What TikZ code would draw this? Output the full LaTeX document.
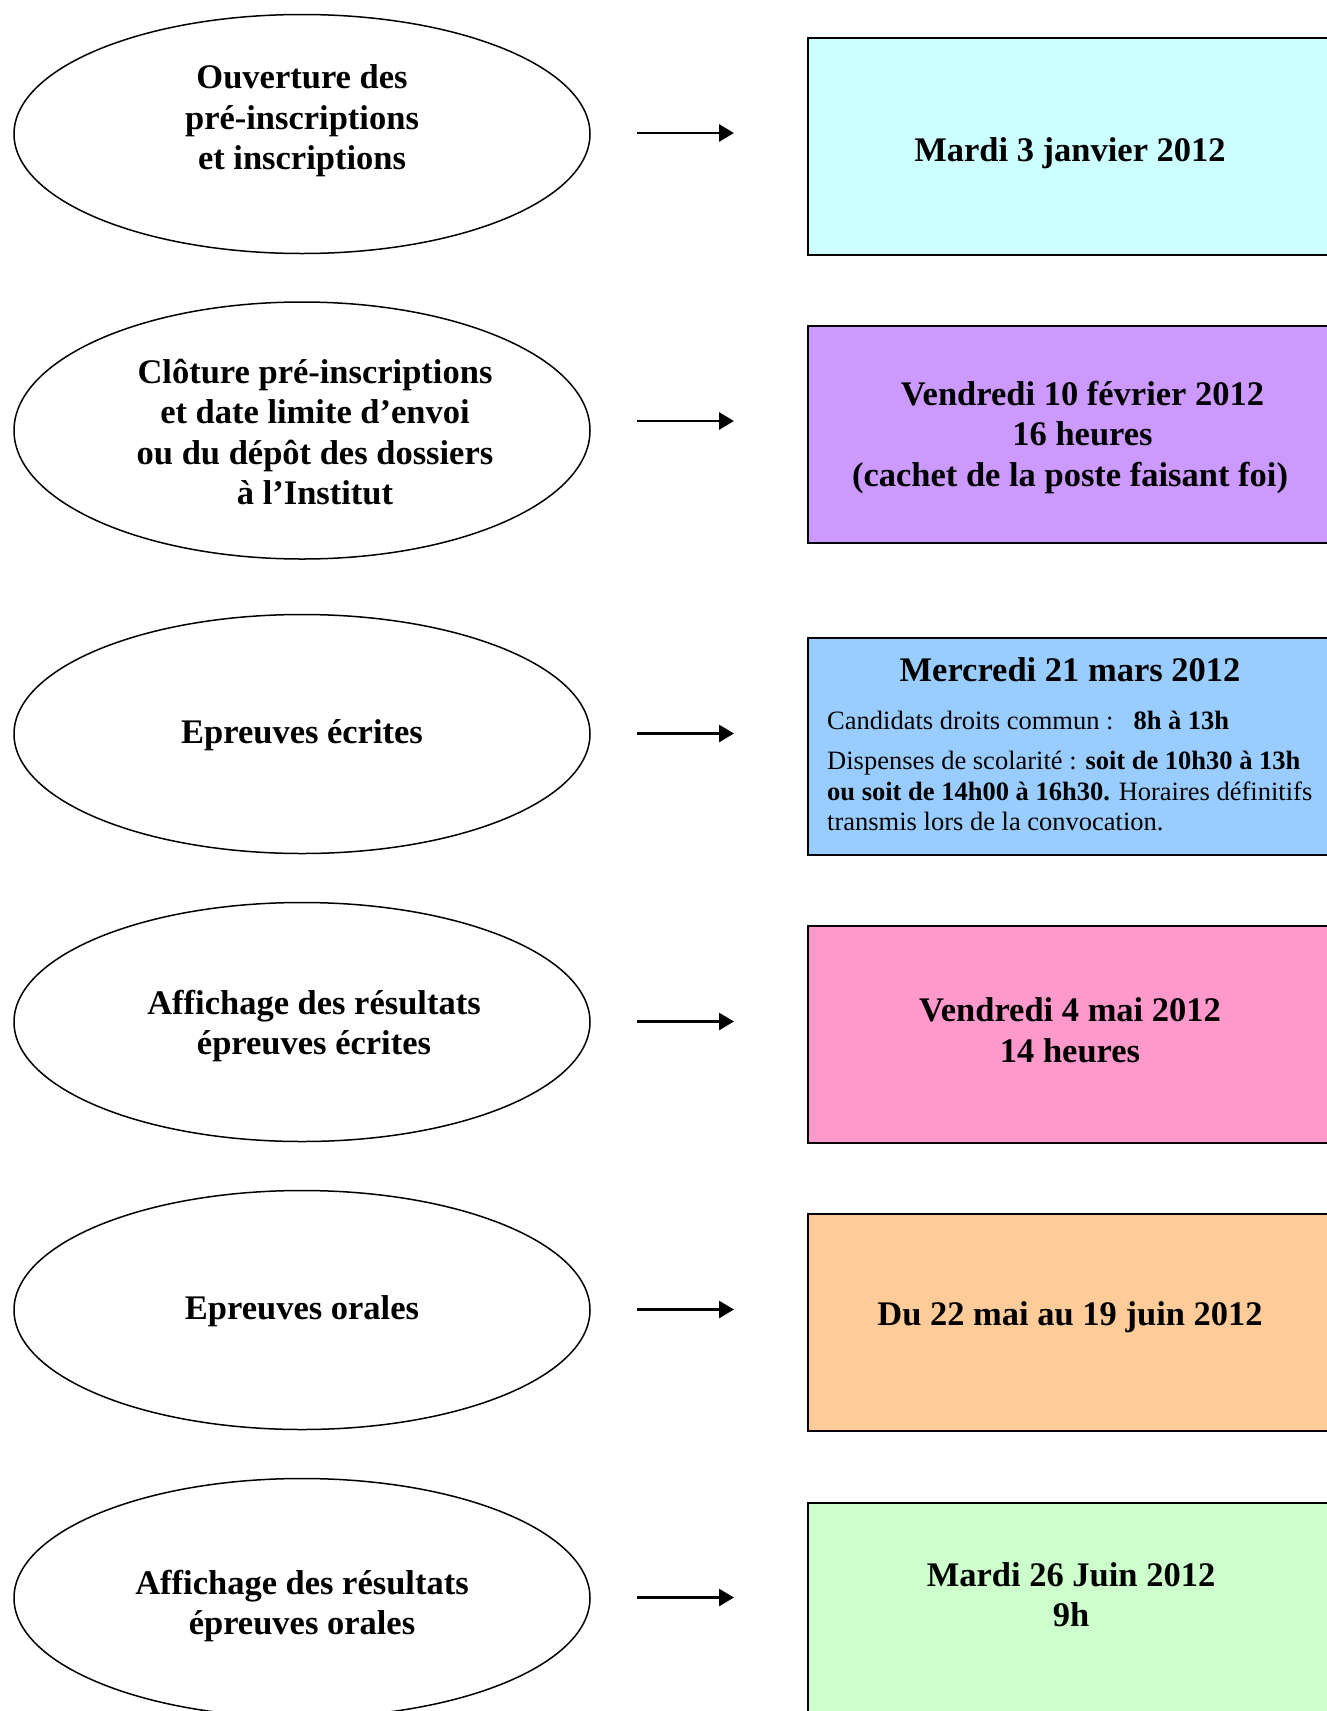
\documentclass[tikz,border=0pt]{standalone}
\usepackage{fontspec}
\setmainfont{Liberation Serif}
\usepackage{xcolor}
\usepackage{tikz}
\usetikzlibrary{shapes.geometric,arrows.meta,positioning}

\definecolor{cyanpale}{HTML}{CCFFFF}
\definecolor{lavande}{HTML}{CC99FF}
\definecolor{bleuciel}{HTML}{99CCFF}
\definecolor{rose}{HTML}{FF99CC}
\definecolor{abricot}{HTML}{FFCC99}
\definecolor{vertpale}{HTML}{CCFFCC}

\tikzset{
    etape/.style={draw, ellipse, line width=1.5pt, minimum width=576pt, minimum height=239pt, inner sep=0pt},
    cadre/.style={draw, line width=2pt, minimum width=528pt, minimum height=217pt, anchor=north west, inner sep=0pt},
    fleche/.style={line width=2.8pt, -{Triangle[length=15pt,width=17pt]}},
    gras/.style={font=\bfseries\fontsize{34.5}{40.5}\selectfont, align=center, inner sep=0pt},
    petit/.style={font=\fontsize{26.5}{30.5}\selectfont, align=left, inner sep=0pt, anchor=west}
}

\begin{document}
\begin{tikzpicture}[x=1pt,y=-1pt]
    \useasboundingbox (0,0) rectangle (1327,1711);

    \node[etape] (e1) at (302,134) {};
    \node[etape, minimum height=257pt] (e2) at (302,430.5) {};
    \node[etape] (e3) at (302,734) {};
    \node[etape] (e4) at (302,1022) {};
    \node[etape] (e5) at (302,1310) {};
    \node[etape] (e6) at (302,1598) {};

    \node[gras] (t1) at (302,121) {Ouverture des\\pré-inscriptions\\et inscriptions};
    \node[gras] (t2) at (315,432) {Clôture pré-inscriptions\\et date limite d’envoi\\ou du dépôt des dossiers\\à l’Institut};
    \node[gras] (t3) at (302,735) {Epreuves écrites};
    \node[gras] (t4) at (314,1026) {Affichage des résultats\\épreuves écrites};
    \node[gras] (t5) at (302,1311) {Epreuves orales};
    \node[gras] (t6) at (302,1606) {Affichage des résultats\\épreuves orales};

    \node[cadre, fill=cyanpale] (b1) at (806.5,37) {};
    \node[cadre, fill=lavande] (b2) at (806.5,325) {};
    \node[cadre, fill=bleuciel] (b3) at (806.5,637) {};
    \node[cadre, fill=rose] (b4) at (806.5,925) {};
    \node[cadre, fill=abricot] (b5) at (806.5,1213) {};
    \node[cadre, fill=vertpale] (b6) at (806.5,1502) {};

    \node[gras] (d1) at (1070,153) {Mardi 3 janvier 2012};
    \node[gras] (d2) at (1070,437.5) {\hspace*{25pt}Vendredi 10 février 2012\\\hspace*{25pt}16 heures\\(cachet de la poste faisant foi)};
    \node[gras] (d3) at (1070,670) {Mercredi 21 mars 2012};
    \node[petit] (h3) at (827,771) {Candidats droits commun :\hspace{20pt}\textbf{8h à 13h}\\[10pt]
        Dispenses de scolarité : \textbf{soit de 10h30 à 13h}\\
        \textbf{ou soit de 14h00 à 16h30.} Horaires définitifs\\
        transmis lors de la convocation.};
    \node[gras] (d4) at (1070,1030) {Vendredi 4 mai 2012\\14 heures};
    \node[gras] (d5) at (1070,1317) {Du 22 mai au 19 juin 2012};
    \node[gras] (d6) at (1071,1594.5) {Mardi 26 Juin 2012\\9h};

    \foreach \y [count=\i] in {133,421,733.5,1021.5,1309.5,1597.5} {
        \coordinate (s\i) at (637,\y);
        \coordinate (f\i) at (734,\y);
        \draw[fleche] (s\i) -- (f\i);
    }
\end{tikzpicture}
\end{document}
